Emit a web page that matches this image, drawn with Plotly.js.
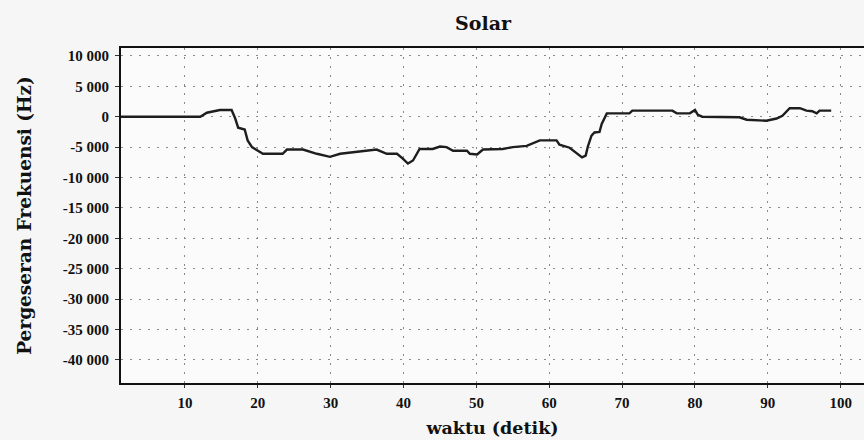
<!DOCTYPE html>
<html>
<head>
<meta charset="utf-8">
<script src="https://cdn.plot.ly/plotly-3.0.1.min.js"></script>
<style>html,body{margin:0;padding:0;background:#f6f6f6;}#chart{width:864px;height:440px;}</style>
</head>
<body>
<div id="chart"></div>
<script>
const chartTitle = "Solar";
const xTitle = "waktu (detik)";
const yTitle = "Pergeseran Frekuensi (Hz)";
const timeSec = [1.2, 12.1, 13.0, 14.8, 16.4, 16.9, 17.3, 18.2, 18.6, 19.2, 20.7, 23.4, 24.0, 26.2, 28.1, 29.9, 31.3, 35.4, 36.3, 37.7, 39.1, 39.9, 40.6, 41.3, 42.2, 44.0, 45.0, 45.9, 46.8, 48.7, 49.1, 50.1, 50.9, 53.6, 55.0, 56.9, 58.7, 61.0, 61.4, 62.8, 63.8, 64.5, 65.0, 65.3, 65.8, 66.2, 66.9, 67.2, 67.9, 71.0, 71.4, 76.9, 77.5, 79.3, 80.0, 80.4, 81.0, 86.1, 87.1, 89.8, 91.2, 92.0, 93.0, 94.4, 95.3, 96.1, 96.7, 97.1, 98.7];
const freqShift = [0, 0, 650, 1100, 1100, -300, -1800, -2100, -3900, -5000, -6100, -6100, -5400, -5400, -6100, -6600, -6100, -5600, -5400, -6100, -6100, -6900, -7700, -7200, -5300, -5300, -4900, -5000, -5600, -5600, -6100, -6200, -5400, -5300, -5000, -4800, -3900, -3900, -4600, -5100, -6100, -6700, -6400, -4900, -3100, -2600, -2500, -1200, 550, 550, 1000, 1000, 550, 550, 1100, 300, 0, -100, -500, -660, -300, 160, 1400, 1400, 1000, 900, 550, 1000, 1000];
const xTickVals = [10, 20, 30, 40, 50, 60, 70, 80, 90, 100];
const xTickText = ["10", "20", "30", "40", "50", "60", "70", "80", "90", "100"];
const yTickVals = [10000, 5000, 0, -5000, -10000, -15000, -20000, -25000, -30000, -35000, -40000];
const yTickText = ["10 000", "5 000", "0", "-5 000", "-10 000", "-15 000", "-20 000", "-25 000", "-30 000", "-35 000", "-40 000"];

const tickSerif = "Liberation Serif, DejaVu Serif, serif";
const titleSerif = "DejaVu Serif, Liberation Serif, serif";

const trace = {
  x: timeSec, y: freqShift, type: "scatter", mode: "lines",
  line: {color: "#1e1e1e", width: 2.4}, hoverinfo: "skip"
};

const layout = {
  width: 864, height: 440,
  margin: {l: 121, r: 0, t: 48, b: 57},
  paper_bgcolor: "#f6f6f6", plot_bgcolor: "#fbfbfb",
  showlegend: false,
  title: {text: "<b>" + chartTitle + "</b>", font: {family: titleSerif, size: 19, color: "#111"},
          xref: "container", x: 483/864, xanchor: "center", yref: "container", y: 1 - 23.5/440, yanchor: "middle"},
  xaxis: {
    range: [1.22, 103.2], tickvals: xTickVals, ticktext: xTickText,
    ticks: "outside", ticklen: 3, tickcolor: "#333", ticklabelstandoff: 2,
    showline: true, linecolor: "#111", linewidth: 2, mirror: true,
    showgrid: true, gridcolor: "#8a8a8a", gridwidth: 1, griddash: "2px,7px",
    zeroline: false,
    tickfont: {family: tickSerif, size: 15, color: "#111", weight: "bold"},
    title: {text: "<b>" + xTitle + "</b>", font: {family: titleSerif, size: 17.5, color: "#111"}, standoff: 12}
  },
  yaxis: {
    range: [-43800, 11300], tickvals: yTickVals, ticktext: yTickText,
    ticks: "outside", ticklen: 4, tickcolor: "#333", ticklabelstandoff: 3,
    showline: true, linecolor: "#111", linewidth: 2, mirror: false,
    showgrid: true, gridcolor: "#8a8a8a", gridwidth: 1, griddash: "2px,7px",
    zeroline: false,
    tickfont: {family: tickSerif, size: 15, color: "#111", weight: "bold"},
    title: {text: "<b>" + yTitle + "</b>", font: {family: titleSerif, size: 18.5, color: "#111"}, standoff: 26}
  }
};

Plotly.newPlot("chart", [trace], layout, {displayModeBar: false, staticPlot: true});
</script>
</body>
</html>
